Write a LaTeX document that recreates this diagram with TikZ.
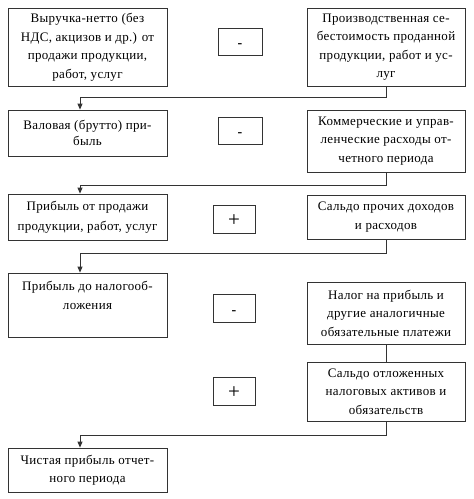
\documentclass[tikz,border=0pt]{standalone}
\usepackage{fontspec}
\setmainfont[LetterSpace=2.5]{Liberation Serif}
\newfontfamily\signfont{Liberation Serif}
\usetikzlibrary{arrows.meta}
\tikzset{
	box/.style={draw=black!80, line width=0.8pt, align=center, inner sep=2pt, font=\fontsize{13}{18.5}\selectfont},
	lbox/.style={box, minimum width=159pt},
	rbox/.style={box, minimum width=158pt},
	sign/.style={draw=black!80, line width=0.8pt, minimum height=27pt, inner sep=0pt, text depth=0pt},
	minus/.style={sign, minimum width=44pt, text height=12pt, font=\signfont\fontsize{14}{14}\selectfont\bfseries},
	plus/.style={sign, minimum width=42pt, minimum height=28pt, text height=15.5pt, font=\signfont\fontsize{21}{21}\selectfont},
	link/.style={draw=black!80, line width=0.8pt},
	arr/.style={link, -{Triangle[length=6pt,width=5pt]}}
}
\begin{document}
\begin{tikzpicture}[x=1pt,y=-1pt]
	\useasboundingbox (0,0) rectangle (474,499);
	
	%LEFT COLUMN
	\node[lbox, minimum height=78pt] (vyr) at (87.5,47) {Выручка-нетто (без\\НДС, акцизов и др.) от\\продажи продукции,\\работ, услуг};
	\node[lbox, minimum height=46pt, font=\fontsize{13}{16}\selectfont] (val) at (87.5,133) {Валовая (брутто) при-\\быль};
	\node[lbox, minimum height=46pt, font=\fontsize{13}{20}\selectfont] (prod) at (87.5,217) {Прибыль от продажи\\продукции, работ, услуг};
	\node[lbox, minimum height=64pt] (nal) at (87.5,305) {};
		\node[anchor=north, align=center, font=\fontsize{13}{19}\selectfont] (naltxt) at ([yshift=-5pt]nal.north) {Прибыль до налогооб-\\ложения};
	\node[lbox, minimum height=44pt] (chist) at (87.5,470) {Чистая прибыль отчет-\\ного периода};
	
	%RIGHT COLUMN
	\node[rbox, minimum height=78pt] (seb) at (386,47) {Производственная се-\\бестоимость проданной\\продукции, работ и ус-\\луг};
	\node[rbox, minimum height=62pt] (kom) at (386,141) {Коммерческие и управ-\\ленческие расходы от-\\четного периода};
	\node[rbox, minimum height=44pt] (sal) at (386,217) {Сальдо прочих доходов\\и расходов};
	\node[rbox, minimum height=62pt] (npr) at (386,313) {Налог на прибыль и\\другие аналогичные\\обязательные платежи};
	\node[rbox, minimum height=59pt] (otl) at (386,391.5) {Сальдо отложенных\\налоговых активов и\\обязательств};
	
	%SIGNS
	\node[minus] (s1) at (240,41.5) {-};
	\node[minus] (s2) at (240,130.5) {-};
	\node[plus] (s3) at (234,219) {+};
	\node[minus, minimum width=42pt, minimum height=28pt] (s4) at (234,308) {-};
	\node[plus] (s5) at (234,391) {+};
	
	%CONNECTORS
	\coordinate (j1) at (80,97);
	\coordinate (j2) at (80,185.5);
	\coordinate (j3) at (80,253);
	\coordinate (j4) at (80,435);
	\draw[arr] (seb.south) |- (j1) -- (j1 |- val.north);
	\draw[arr] (kom.south) |- (j2) -- (j2 |- prod.north);
	\draw[arr] (sal.south) |- (j3) -- (j3 |- nal.north);
	\draw[link] (npr.south) -- (otl.north);
	\draw[arr] (otl.south) |- (j4) -- (j4 |- chist.north);
\end{tikzpicture}
\end{document}
